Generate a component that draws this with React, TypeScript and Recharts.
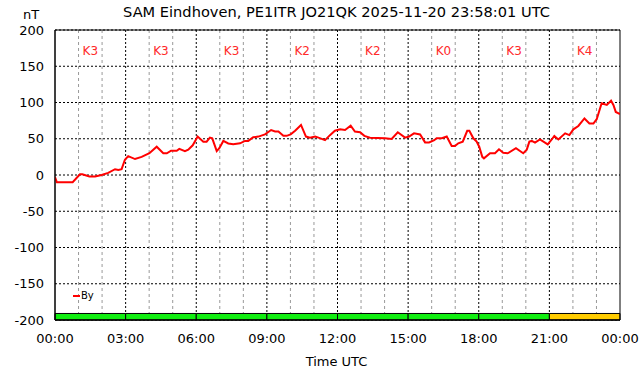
import React from "react";
import {
  ComposedChart,
  Line,
  XAxis,
  YAxis,
  CartesianGrid,
  ReferenceArea,
  ReferenceDot,
} from "recharts";

const titleText = "SAM Eindhoven, PE1ITR JO21QK 2025-11-20 23:58:01 UTC";
const yUnit = "nT";
const xTitle = "Time UTC";
const seriesName = "By";

// hours since 00:00 UTC
const hours = [
  0.0, 0.08, 0.75, 1.06, 1.16, 1.46, 1.7, 1.98, 2.26, 2.55, 2.69, 2.83, 2.97, 3.11, 3.4, 3.68,
  4.01, 4.32, 4.6, 4.75, 4.93, 5.17, 5.28, 5.52, 5.66, 5.85, 6.06, 6.3, 6.44, 6.58, 6.68, 6.87,
  6.98, 7.15, 7.36, 7.57, 7.86, 8.07, 8.21, 8.42, 8.64, 8.92, 9.18, 9.35, 9.49, 9.7, 9.84, 10.01,
  10.2, 10.45, 10.66, 10.83, 11.05, 11.19, 11.47, 11.68, 11.89, 12.11, 12.32, 12.56, 12.74, 12.96,
  13.14, 13.38, 14.02, 14.3, 14.56, 14.87, 15.04, 15.25, 15.51, 15.72, 15.89, 16.11, 16.21, 16.43,
  16.64, 16.85, 16.99, 17.13, 17.32, 17.51, 17.6, 17.77, 17.91, 18.02, 18.15, 18.22, 18.48, 18.69,
  18.86, 19.04, 19.23, 19.58, 19.89, 20.04, 20.15, 20.25, 20.39, 20.6, 20.93, 21.1, 21.21, 21.38,
  21.67, 21.85, 22.02, 22.23, 22.49, 22.7, 22.87, 23.01, 23.22, 23.44, 23.62, 23.72, 23.82, 24.0,
];

// By in nT
const byValues = [
  -3, -10, -10, 1, 1, -2, -2, 0, 3, 8, 7, 8, 21, 26, 22, 25,
  30, 39, 30, 30, 33.5, 33.5, 36, 33, 35, 41, 53, 46, 46, 51.5, 50.5, 33,
  37, 47, 43.5, 42.3, 43.7, 47, 47, 52, 53, 56, 62, 60, 60, 54, 54, 56,
  61, 69, 53, 51.5, 53, 51.5, 48, 55, 61, 63, 62, 68, 60, 59,
  54, 51.5, 50.6, 49.7, 59, 51.5, 53, 57.5, 56, 45, 45, 48, 50.6, 50.6,
  53, 40, 40, 43.7, 46, 61, 61, 50.6, 46, 39, 25, 23, 30, 30,
  35.4, 30.8, 30, 37, 30, 35, 46, 47, 44.6, 49, 42.3, 49, 53.8, 49,
  57.5, 55, 63, 67.6, 78, 71, 71, 77, 99, 96.6, 102.5, 96.6, 87, 84,
];

// K-index per 3-hour block
const kStarts = [0, 3, 6, 9, 12, 15, 18, 21];
const kLabels = ["K3", "K3", "K3", "K2", "K2", "K0", "K3", "K4"];
const kColors = ["#11ee11", "#11ee11", "#11ee11", "#11ee11", "#11ee11", "#11ee11", "#11ee11", "#ffcc00"];
const kBarTop = -191;
const kLabelY = 172;

const xTicks = [0, 3, 6, 9, 12, 15, 18, 21, 24];
const minorHours = [1, 2, 4, 5, 7, 8, 10, 11, 13, 14, 16, 17, 19, 20, 22, 23];
const majorHours = [3, 6, 9, 12, 15, 18, 21];
const yTicks = [-200, -150, -100, -50, 0, 50, 100, 150, 200];

const data = hours.map((h, i) => ({ h, by: byValues[i] }));

const FONT = "'DejaVu Sans', Verdana, sans-serif";

const fmtHour = (h: number) => String(h % 24).padStart(2, "0") + ":00";

export default function App() {
  return (
    <div
      style={{
        position: "absolute",
        left: 0,
        top: 0,
        width: 642,
        height: 376,
        background: "#fff",
        fontFamily: FONT,
      }}
    >
      <ComposedChart
        width={642}
        height={376}
        data={data}
        margin={{ top: 30, right: 22, bottom: 26, left: 0 }}
        style={{ fontFamily: FONT }}
      >
        <CartesianGrid
          horizontal={false}
          vertical={true}
          verticalValues={minorHours}
          stroke="#999"
          strokeDasharray="3 3"
        />
        <CartesianGrid
          horizontal={true}
          vertical={true}
          verticalValues={majorHours}
          horizontalValues={yTicks}
          stroke="#000"
          strokeDasharray="2 2"
        />
        <XAxis
          dataKey="h"
          type="number"
          domain={[0, 24]}
          ticks={xTicks}
          tickFormatter={fmtHour}
          height={30}
          tickLine={false}
          tickSize={0}
          tickMargin={14}
          axisLine={{ stroke: "#000" }}
          tick={{ fill: "#000", fontSize: 13, fontFamily: FONT }}
          interval={0}
          allowDataOverflow
        />
        <YAxis
          type="number"
          domain={[-200, 200]}
          ticks={yTicks}
          width={55}
          tickLine={false}
          tickSize={0}
          tickMargin={11}
          axisLine={{ stroke: "#000" }}
          tick={{ fill: "#000", fontSize: 13, fontFamily: FONT }}
          interval={0}
          allowDataOverflow
        />
        {kStarts.map((s, i) => (
          <ReferenceArea
            key={"kb" + i}
            x1={s}
            x2={s + 3}
            y1={-200}
            y2={kBarTop}
            fill={kColors[i]}
            fillOpacity={1}
            stroke="#000"
            strokeWidth={1}
          />
        ))}
        {kStarts.map((s, i) => (
          <ReferenceDot
            key={"kl" + i}
            x={s + 1.5}
            y={kLabelY}
            r={0}
            fill="none"
            stroke="none"
            label={{ value: kLabels[i], position: "center", fill: "#ff2a2a", fontSize: 12, fontFamily: FONT }}
          />
        ))}
        <ReferenceArea
          x1={0}
          x2={24}
          y1={-200}
          y2={200}
          fill="none"
          fillOpacity={0}
          stroke="#000"
          strokeWidth={1}
        />
        <Line
          type="linear"
          dataKey="by"
          name={seriesName}
          stroke="#ff0000"
          strokeWidth={2}
          dot={false}
          isAnimationActive={false}
        />
      </ComposedChart>
      <div
        style={{
          position: "absolute",
          left: 0,
          width: 673,
          top: 2,
          textAlign: "center",
          fontSize: 14.6,
          color: "#000",
          lineHeight: "20px",
          whiteSpace: "nowrap",
        }}
      >
        {titleText}
      </div>
      <div
        style={{
          position: "absolute",
          left: 23,
          top: 6,
          fontSize: 13,
          lineHeight: "18px",
          color: "#000",
        }}
      >
        {yUnit}
      </div>
      <div
        style={{
          position: "absolute",
          left: 0,
          width: 673,
          top: 353,
          textAlign: "center",
          fontSize: 13,
          lineHeight: "18px",
          color: "#000",
        }}
      >
        {xTitle}
      </div>
      <div
        style={{
          position: "absolute",
          left: 73,
          top: 289,
          display: "flex",
          alignItems: "center",
          fontSize: 10,
          lineHeight: "14px",
          color: "#000",
        }}
      >
        <span style={{ display: "inline-block", width: 7, height: 2, background: "#ff0000", marginRight: 1 }} />
        <span>{seriesName}</span>
      </div>
    </div>
  );
}
